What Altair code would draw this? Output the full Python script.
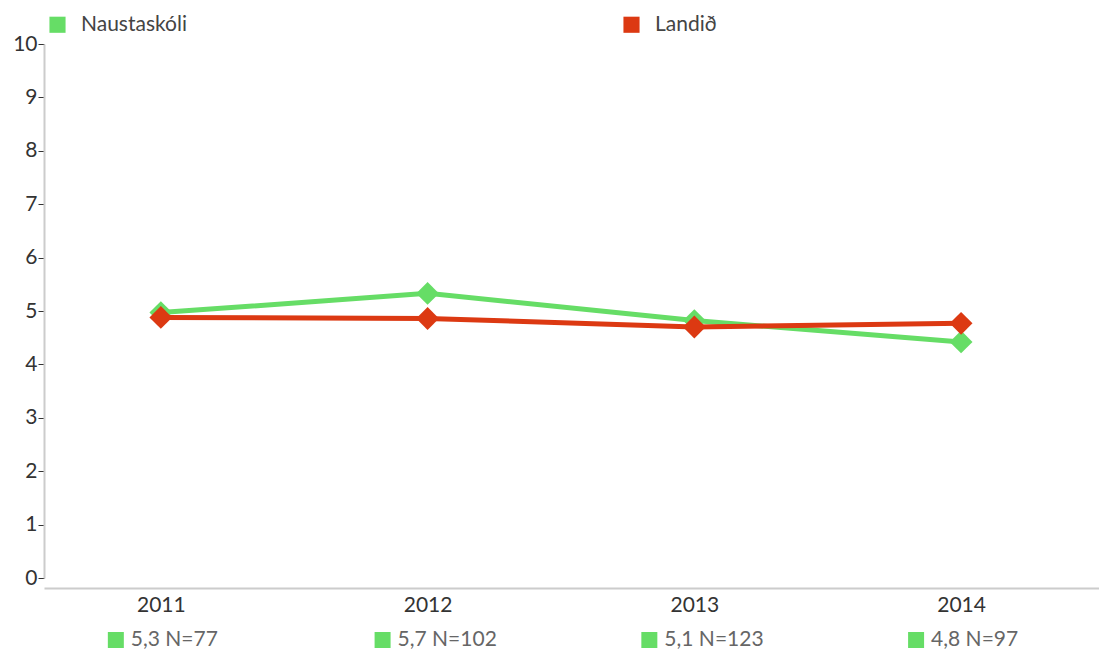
import altair as alt
import pandas as pd

years = [2011, 2012, 2013, 2014]
naust = [4.97, 5.33, 4.82, 4.42]
land = [4.88, 4.86, 4.70, 4.77]
notes = ["5,3 N=77", "5,7 N=102", "5,1 N=123", "4,8 N=97"]
series = ["Naustaskóli", "Landið"]
colors = ["#66dd66", "#dc3912"]

rows = []
for s, vals in zip(series, [naust, land]):
    for y, v in zip(years, vals):
        rows.append({"year": y, "value": v, "series": s})
df = pd.DataFrame(rows)
notes_df = pd.DataFrame({"year": years, "note": notes})

W, H = 1055, 534
FONT = "Lato"

x = alt.X("year:Q", scale=alt.Scale(domain=[2010.562, 2014.517], nice=False, zero=False),
          axis=alt.Axis(values=years, format="d", title=None, grid=False, ticks=False,
                        offset=10, domainColor="#cccccc", domainWidth=2,
                        labelFontSize=21, labelColor="#333333", labelFont=FONT, labelPadding=6))
y = alt.Y("value:Q", scale=alt.Scale(domain=[0, 10], nice=False),
          axis=alt.Axis(values=list(range(11)), title=None, grid=False, tickSize=6,
                        tickColor="#333333", tickWidth=1, domainColor="#cccccc", domainWidth=2,
                        labelFontSize=21, labelColor="#333333", labelFont=FONT, labelPadding=1))
color = alt.Color("series:N", scale=alt.Scale(domain=series, range=colors),
                  legend=alt.Legend(title=None, orient="none", legendX=3, legendY=-30,
                                    direction="horizontal", symbolType="square", symbolSize=260,
                                    symbolStrokeWidth=0, labelFontSize=21, labelFont=FONT,
                                    labelColor="#444444", columnPadding=434, labelOffset=13))

base = alt.Chart(df).encode(x=x, y=y, color=color)
lines = []
for s in series:
    lines.append(base.transform_filter(alt.datum.series == s).mark_line(strokeWidth=5))
pts = []
for s in series:
    pts.append(base.transform_filter(alt.datum.series == s).mark_point(
        shape="diamond", size=520, filled=True, opacity=1))

nb = alt.Chart(notes_df).encode(x=alt.X("year:Q"))
sq = nb.mark_square(size=256, color="#66dd66", xOffset=-45, opacity=1).encode(y=alt.value(596))
tx = nb.mark_text(align="left", baseline="middle", fontSize=21, font=FONT, color="#666666",
                  dx=-30).encode(y=alt.value(596), text="note:N")

chart = alt.layer(*lines, *pts, sq, tx).properties(
    width=W, height=H, padding={"left": 4, "top": 6, "right": 0, "bottom": 0}
).configure_view(stroke=None)

chart.save("out.html", embed_options={"renderer": "svg", "actions": False})
